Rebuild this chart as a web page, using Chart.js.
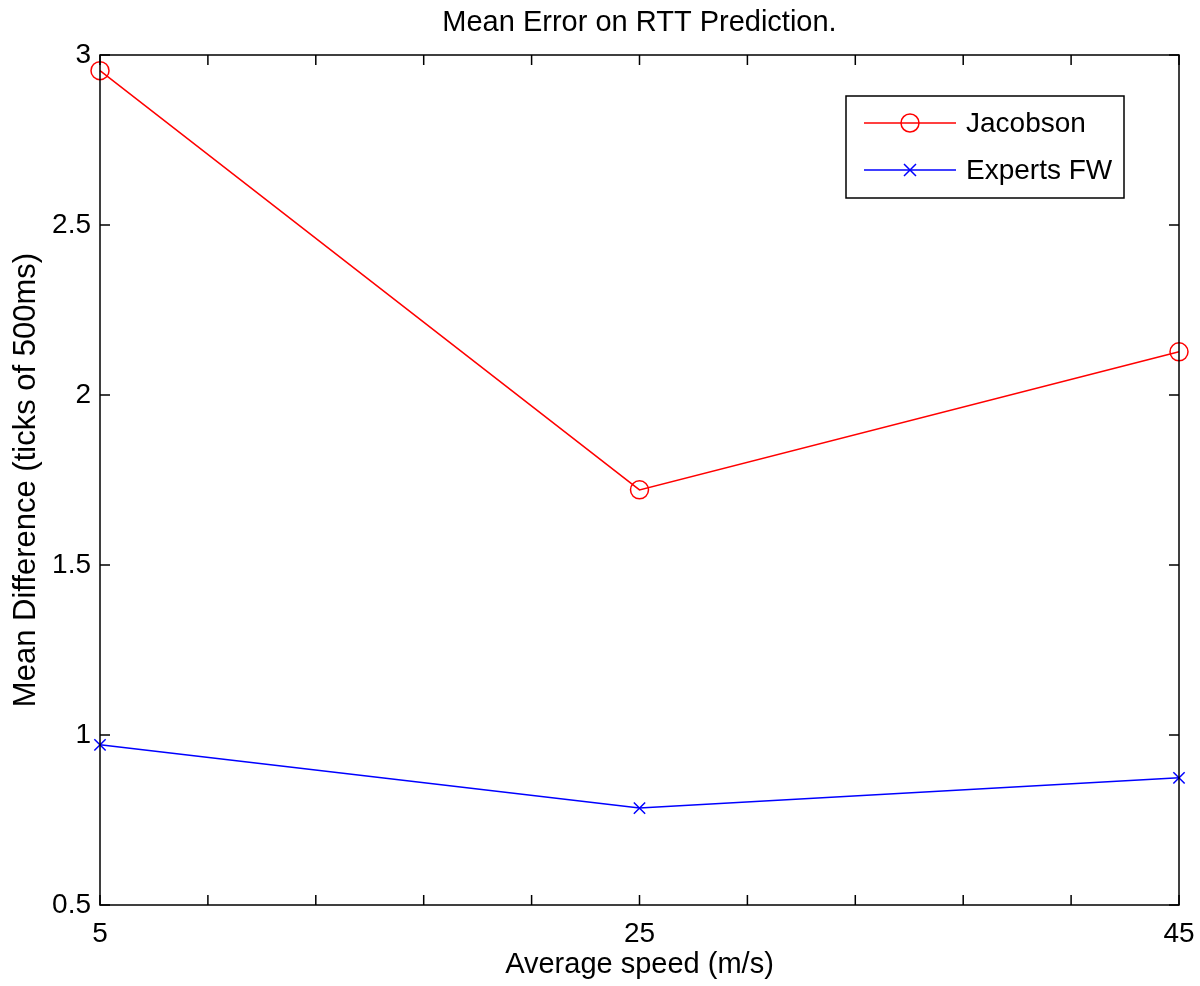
<!DOCTYPE html>
<html>
<head>
<meta charset="utf-8">
<script src="https://cdn.jsdelivr.net/npm/chart.js@4.4.0/dist/chart.umd.min.js"></script>
<style>
  body { margin: 0; background: #fff; }
  #wrap { width: 1200px; height: 986px; }
</style>
</head>
<body>
<div id="wrap"><canvas id="myChart"></canvas></div>
<script>
// chart values
const speeds = [5, 25, 45];
const jacobson = [2.954, 1.721, 2.127];
const expertsFW = [0.971, 0.785, 0.874];
const xTickLabels = [5, 25, 45];

const FONT = '"Liberation Sans", Arial, Helvetica, sans-serif';

function toPoints(xs, ys) {
  var pts = [];
  for (var i = 0; i < xs.length; i++) {
    pts.push({ x: xs[i], y: ys[i] });
  }
  return pts;
}

// box around the plot with matlab style inward ticks, plus the legend
const boxPlugin = {
  id: 'box',
  afterDraw(chart) {
    const ctx = chart.ctx;
    const a = chart.chartArea;
    const xs = chart.scales.x;
    const ys = chart.scales.y;
    const tl = 10;
    ctx.save();
    ctx.strokeStyle = '#000';
    ctx.lineWidth = 1.5;
    ctx.strokeRect(a.left, a.top, a.right - a.left, a.bottom - a.top);
    ctx.beginPath();
    xs.ticks.forEach(function (t) {
      const px = xs.getPixelForValue(t.value);
      ctx.moveTo(px, a.bottom); ctx.lineTo(px, a.bottom - tl);
      ctx.moveTo(px, a.top); ctx.lineTo(px, a.top + tl);
    });
    ys.ticks.forEach(function (t) {
      const py = ys.getPixelForValue(t.value);
      ctx.moveTo(a.left, py); ctx.lineTo(a.left + tl, py);
      ctx.moveTo(a.right, py); ctx.lineTo(a.right - tl, py);
    });
    ctx.stroke();

    // legend
    const bx = a.right - 333, by = a.top + 41, bw = 278, bh = 102;
    ctx.fillStyle = '#fff';
    ctx.fillRect(bx, by, bw, bh);
    ctx.lineWidth = 1.5;
    ctx.strokeRect(bx, by, bw, bh);
    const rows = [by + 27, by + 74];
    chart.data.datasets.forEach(function (ds, i) {
      const y = rows[i];
      ctx.strokeStyle = ds.borderColor;
      ctx.lineWidth = 1.5;
      ctx.beginPath();
      ctx.moveTo(bx + 18, y); ctx.lineTo(bx + 110, y);
      ctx.stroke();
      const cx = bx + 64;
      ctx.beginPath();
      if (ds.pointStyle === 'circle') {
        ctx.arc(cx, y, ds.pointRadius, 0, Math.PI * 2);
      } else {
        const r = ds.pointRadius * 0.75;
        ctx.moveTo(cx - r, y - r); ctx.lineTo(cx + r, y + r);
        ctx.moveTo(cx - r, y + r); ctx.lineTo(cx + r, y - r);
      }
      ctx.stroke();
      ctx.fillStyle = '#000';
      ctx.font = '28px ' + FONT;
      ctx.textBaseline = 'middle';
      ctx.textAlign = 'left';
      ctx.fillText(ds.label, bx + 120, y + 1);
    });
    ctx.restore();
  }
};

const data = {
  datasets: [{
    label: 'Jacobson',
    data: toPoints(speeds, jacobson),
    borderColor: '#ff0000',
    backgroundColor: 'rgba(0,0,0,0)',
    borderWidth: 1.5,
    pointStyle: 'circle',
    pointRadius: 9,
    pointBorderWidth: 1.5,
    pointBorderColor: '#ff0000',
    pointBackgroundColor: 'rgba(0,0,0,0)',
    tension: 0,
    clip: false
  }, {
    label: 'Experts FW',
    data: toPoints(speeds, expertsFW),
    borderColor: '#0000ff',
    backgroundColor: 'rgba(0,0,0,0)',
    borderWidth: 1.5,
    pointStyle: 'crossRot',
    pointRadius: 8,
    pointBorderWidth: 1.5,
    pointBorderColor: '#0000ff',
    tension: 0,
    clip: false
  }]
};

const config = {
  type: 'line',
  data: data,
  plugins: [boxPlugin],
  options: {
    responsive: true,
    maintainAspectRatio: false,
    animation: false,
    layout: { padding: { left: 0, right: 21, top: 0, bottom: 0 } },
    plugins: {
      legend: { display: false },
      tooltip: { enabled: false },
      title: {
        display: true,
        fullSize: false,
        text: 'Mean Error on RTT Prediction.',
        color: '#000',
        font: { family: FONT, size: 29, weight: 'normal' },
        padding: { top: 6, bottom: 14.2 }
      }
    },
    scales: {
      x: {
        type: 'linear',
        min: 5,
        max: 45,
        grid: { display: false },
        border: { display: false },
        ticks: {
          stepSize: 4,
          autoSkip: false,
          maxRotation: 0,
          padding: 4,
          color: '#000',
          font: { family: FONT, size: 28 },
          callback: function (v) { return xTickLabels.indexOf(v) >= 0 ? String(v) : ''; }
        },
        title: {
          display: true,
          text: 'Average speed (m/s)',
          color: '#000',
          font: { family: FONT, size: 29 },
          padding: { top: 0, bottom: 4 }
        },
        afterFit: function (s) {
          s.height = 81;
          s.paddingLeft = 0;
          s.paddingRight = 0;
        }
      },
      y: {
        min: 0.5,
        max: 3,
        grid: { display: false },
        border: { display: false },
        ticks: {
          stepSize: 0.5,
          padding: 1,
          color: '#000',
          font: { family: FONT, size: 28 },
          callback: function (v) { return String(v); }
        },
        title: {
          display: true,
          text: 'Mean Difference (ticks of 500ms)',
          color: '#000',
          font: { family: FONT, size: 31 },
          padding: { top: 8, bottom: 0 }
        },
        afterFit: function (s) {
          s.width = 100;
          s.paddingTop = 0;
          s.paddingBottom = 0;
        }
      }
    }
  }
};

var ctx = document.getElementById('myChart').getContext('2d');
var myChart = new Chart(ctx, config);
</script>
</body>
</html>
